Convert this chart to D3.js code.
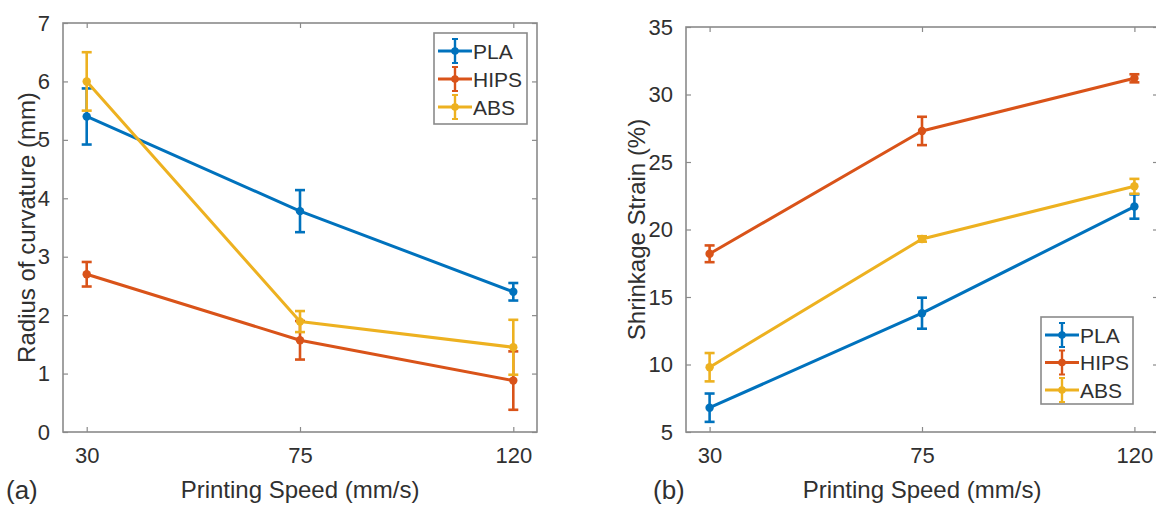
<!DOCTYPE html>
<html>
<head>
<meta charset="utf-8">
<script src="https://cdn.jsdelivr.net/npm/d3@7"></script>
<style>
  html, body { margin: 0; padding: 0; background: #fff; }
  svg { display: block; font-family: "Liberation Sans", Arial, Helvetica, sans-serif; }
</style>
</head>
<body>
<svg id="chart" width="1156" height="505"></svg>
<script>
// Printing speeds (mm/s) shared by both panels
const speeds = [30, 75, 120];
const materials = ["PLA", "HIPS", "ABS"];
const colors = ["#0072BD", "#D95319", "#EDB120"];

// (a) Radius of curvature (mm), mean and error half-width
const radiusPLA = [5.4, 3.78, 2.4];
const radiusPLAErr = [0.48, 0.36, 0.15];
const radiusHIPS = [2.7, 1.57, 0.88];
const radiusHIPSErr = [0.21, 0.33, 0.5];
const radiusABS = [6.0, 1.89, 1.45];
const radiusABSErr = [0.5, 0.18, 0.47];
const radiusTicks = [0, 1, 2, 3, 4, 5, 6, 7];

// (b) Shrinkage strain (%), mean and error half-width
const strainPLA = [6.8, 13.8, 21.7];
const strainPLAErr = [1.05, 1.15, 0.9];
const strainHIPS = [18.2, 27.3, 31.2];
const strainHIPSErr = [0.62, 1.05, 0.3];
const strainABS = [9.8, 19.3, 23.2];
const strainABSErr = [1.05, 0.2, 0.55];
const strainTicks = [5, 10, 15, 20, 25, 30, 35];

const svg = d3.select("#chart");
const textColor = "#303030";
const axisColor = "#8a8a8a";
const intFmt = d3.format("d");

function drawPanel(cfg) {
  const x = d3.scaleLinear().domain([25, 125]).range([cfg.left, cfg.right]);
  const y = d3.scaleLinear().domain(cfg.yDomain).range([cfg.bottom, cfg.top]);
  const g = svg.append("g");

  // axes box with inward ticks on all four sides
  const tickLen = 5;
  const axes = [
    { ax: d3.axisBottom(x).tickValues(speeds).tickFormat(intFmt).tickSize(tickLen).tickPadding(10), t: `translate(0,${cfg.bottom})`, labels: true },
    { ax: d3.axisTop(x).tickValues(speeds).tickSize(tickLen), t: `translate(0,${cfg.top})`, labels: false },
    { ax: d3.axisLeft(y).tickValues(cfg.yTicks).tickFormat(intFmt).tickSize(tickLen).tickPadding(8), t: `translate(${cfg.left},0)`, labels: true },
    { ax: d3.axisRight(y).tickValues(cfg.yTicks).tickSize(tickLen), t: `translate(${cfg.right},0)`, labels: false }
  ];
  axes.forEach(a => {
    const ag = g.append("g").attr("transform", a.t).call(a.ax);
    ag.select(".domain").remove();
    ag.selectAll(".tick line").attr("stroke", axisColor).attr("stroke-width", 1.2);
    // flip tick marks to point inside the box
    ag.selectAll(".tick line").each(function () {
      const l = d3.select(this);
      if (l.attr("y2") !== null && +l.attr("y2") !== 0) l.attr("y2", -l.attr("y2"));
      if (l.attr("x2") !== null && +l.attr("x2") !== 0) l.attr("x2", -l.attr("x2"));
    });
    ag.selectAll(".tick text")
      .attr("fill", textColor)
      .style("font-size", "22px")
      .style("font-family", "'Liberation Sans', Arial, sans-serif");
    if (!a.labels) ag.selectAll(".tick text").remove();
  });
  g.append("rect")
    .attr("x", cfg.left).attr("y", cfg.top)
    .attr("width", cfg.right - cfg.left).attr("height", cfg.bottom - cfg.top)
    .attr("fill", "none").attr("stroke", axisColor).attr("stroke-width", 1.6);

  // series: line, error bars, markers
  cfg.series.forEach((s, i) => {
    const c = colors[i];
    const pts = speeds.map((sp, j) => ({ x: sp, y: s.values[j], e: s.errors[j] }));
    g.append("path")
      .datum(pts)
      .attr("fill", "none").attr("stroke", c).attr("stroke-width", 3)
      .attr("stroke-linejoin", "round")
      .attr("d", d3.line().x(d => x(d.x)).y(d => y(d.y)));
    const eb = g.append("g").attr("stroke", c).attr("stroke-width", 2.6);
    pts.forEach(d => {
      const cx = x(d.x), y0 = y(d.y - d.e), y1 = y(d.y + d.e);
      eb.append("line").attr("x1", cx).attr("x2", cx).attr("y1", y0).attr("y2", y1);
      eb.append("line").attr("x1", cx - 5).attr("x2", cx + 5).attr("y1", y0).attr("y2", y0);
      eb.append("line").attr("x1", cx - 5).attr("x2", cx + 5).attr("y1", y1).attr("y2", y1);
    });
    g.selectAll(null).data(pts).enter().append("circle")
      .attr("cx", d => x(d.x)).attr("cy", d => y(d.y)).attr("r", 4.2)
      .attr("fill", c);
  });

  // legend
  const L = cfg.legend;
  const lg = g.append("g");
  lg.append("rect").attr("x", L.x).attr("y", L.y).attr("width", L.w).attr("height", L.h)
    .attr("fill", "#fff").attr("stroke", axisColor).attr("stroke-width", 1.6);
  materials.forEach((m, i) => {
    const cy = L.y + L.first + i * L.step;
    const c = colors[i];
    const x0 = L.x + 4, x1 = L.x + 38, mx = (x0 + x1) / 2;
    lg.append("line").attr("x1", x0).attr("x2", x1).attr("y1", cy).attr("y2", cy)
      .attr("stroke", c).attr("stroke-width", 2.8);
    lg.append("line").attr("x1", mx).attr("x2", mx).attr("y1", cy - 12).attr("y2", cy + 12)
      .attr("stroke", c).attr("stroke-width", 2.4);
    [cy - 12, cy + 12].forEach(yy => lg.append("line")
      .attr("x1", mx - 3).attr("x2", mx + 3).attr("y1", yy).attr("y2", yy)
      .attr("stroke", c).attr("stroke-width", 2));
    lg.append("circle").attr("cx", mx).attr("cy", cy).attr("r", 3.8).attr("fill", c);
    lg.append("text").attr("x", x1 + 1).attr("y", cy).attr("dy", "0.36em")
      .attr("fill", textColor).style("font-size", "21px").text(m);
  });

  // axis titles
  g.append("text")
    .attr("x", (cfg.left + cfg.right) / 2).attr("y", 498)
    .attr("text-anchor", "middle").attr("fill", textColor).style("font-size", "24px")
    .text("Printing Speed (mm/s)");
  g.append("text")
    .attr("transform", `translate(${cfg.yLabelX},${(cfg.top + cfg.bottom) / 2}) rotate(-90)`)
    .attr("text-anchor", "middle").attr("dy", "0.36em").attr("fill", textColor)
    .style("font-size", "24px")
    .text(cfg.yLabel);
  g.append("text")
    .attr("x", cfg.tagX).attr("y", 499)
    .attr("fill", textColor).style("font-size", "26px")
    .text(cfg.tag);
}

drawPanel({
  left: 63, right: 537, top: 23, bottom: 432,
  yDomain: [0, 7], yTicks: radiusTicks,
  yLabel: "Radius of curvature (mm)", yLabelX: 26,
  tag: "(a)", tagX: 6,
  legend: { x: 434, y: 33, w: 93, h: 91, first: 18, step: 28 },
  series: [
    { values: radiusPLA, errors: radiusPLAErr },
    { values: radiusHIPS, errors: radiusHIPSErr },
    { values: radiusABS, errors: radiusABSErr }
  ]
});

drawPanel({
  left: 686, right: 1158, top: 27, bottom: 432,
  yDomain: [5, 35], yTicks: strainTicks,
  yLabel: "Shrinkage Strain (%)", yLabelX: 636,
  tag: "(b)", tagX: 653,
  legend: { x: 1041, y: 317, w: 92, h: 87, first: 18, step: 27.5 },
  series: [
    { values: strainPLA, errors: strainPLAErr },
    { values: strainHIPS, errors: strainHIPSErr },
    { values: strainABS, errors: strainABSErr }
  ]
});
</script>
</body>
</html>
